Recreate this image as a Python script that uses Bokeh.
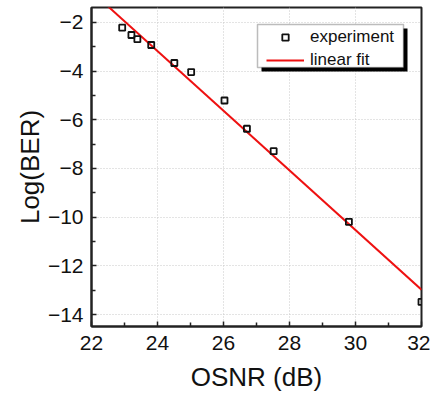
from bokeh.plotting import figure
from bokeh.models import (Range1d, Legend, LegendItem, BoxAnnotation, FixedTicker,
                          ColumnDataSource)
from bokeh.embed import file_html
from bokeh.resources import INLINE

# ---- data ----
osnr = [22.93, 23.21, 23.39, 23.81, 24.51, 25.02, 26.03, 26.71, 27.52, 29.80, 32.0]
log_ber = [-2.22, -2.52, -2.69, -2.93, -3.67, -4.04, -5.21, -6.37, -7.29, -10.19, -13.48]
fit_x = [22.0, 32.0]
fit_y = [-0.73, -12.98]
x_ticks = [22, 24, 26, 28, 30, 32]
x_minor = [23, 25, 27, 29, 31]
y_ticks = [-14, -12, -10, -8, -6, -4, -2]
y_minor = [-13, -11, -9, -7, -5, -3]

FONT = "Liberation Sans"

p = figure(width=430, height=394, output_backend="svg", toolbar_location=None,
           x_range=Range1d(22, 32), y_range=Range1d(-14.49, -1.39),
           min_border_left=91, min_border_right=9, min_border_top=7,
           min_border_bottom=66)
p.background_fill_color = "white"
p.border_fill_color = "white"
p.outline_line_color = "#222222"
p.outline_line_width = 2

pts = ColumnDataSource(dict(x=osnr, y=log_ber))
fit = ColumnDataSource(dict(x=fit_x, y=fit_y))

fit_r = p.line("x", "y", source=fit, line_color="#ee1111", line_width=2)
pts_r = p.scatter("x", "y", source=pts, marker="square", size=6,
                  fill_color=None, line_color="#111111", line_width=1.8)

p.xaxis[0].ticker = FixedTicker(ticks=x_ticks, minor_ticks=x_minor)
p.yaxis[0].ticker = FixedTicker(ticks=y_ticks, minor_ticks=y_minor)
for ax in (p.xaxis[0], p.yaxis[0]):
    ax.axis_line_color = "#222222"
    ax.axis_line_width = 2
    ax.major_tick_in = 5
    ax.major_tick_out = 0
    ax.minor_tick_in = 4
    ax.minor_tick_out = 0
    ax.major_tick_line_color = "#222222"
    ax.minor_tick_line_color = "#222222"
    ax.major_tick_line_width = 1.5
    ax.minor_tick_line_width = 1.5
    ax.major_label_text_font = FONT
    ax.major_label_text_font_size = "21px"
    ax.major_label_text_color = "#111111"
    ax.axis_label_text_font = FONT
    ax.axis_label_text_font_size = "26px"
    ax.axis_label_text_font_style = "normal"
    ax.axis_label_text_color = "#111111"

p.xaxis.axis_label = "OSNR (dB)"
p.yaxis.axis_label = "Log(BER)"
p.xaxis.major_label_standoff = 9
p.xaxis.axis_label_standoff = 9
p.yaxis.major_label_standoff = 8
p.yaxis.axis_label_standoff = 0

for g in (p.xgrid[0], p.ygrid[0]):
    g.grid_line_color = "#c8c8c8"
    g.grid_line_dash = "1 2"
    g.grid_line_width = 1
p.xgrid.ticker = FixedTicker(ticks=x_ticks)
p.ygrid.ticker = FixedTicker(ticks=y_ticks)

# legend frame with drop shadow (canvas pixels)
shadow = BoxAnnotation(left=261, right=407, top=28, bottom=71,
                       left_units="canvas", right_units="canvas",
                       top_units="canvas", bottom_units="canvas",
                       fill_color="black", fill_alpha=1.0, line_color=None,
                       level="overlay")
box = BoxAnnotation(left=257, right=403, top=24, bottom=67,
                    left_units="canvas", right_units="canvas",
                    top_units="canvas", bottom_units="canvas",
                    fill_color="white", fill_alpha=1.0, line_color="#222222",
                    line_width=1.5, level="overlay")
p.add_layout(shadow)
p.add_layout(box)

legend = Legend(items=[LegendItem(label="experiment", renderers=[pts_r]),
                       LegendItem(label="linear fit", renderers=[fit_r])],
                location=(173, 254), margin=0, padding=2, spacing=3,
                glyph_width=38, glyph_height=16, label_height=18,
                label_width=88, label_standoff=6, label_text_font=FONT,
                label_text_font_size="17px", label_text_color="#111111",
                border_line_alpha=0.0, border_line_width=1.5,
                background_fill_alpha=0.0)
legend.level = "overlay"
p.add_layout(legend)

open("out.html", "w").write(file_html(p, INLINE))
